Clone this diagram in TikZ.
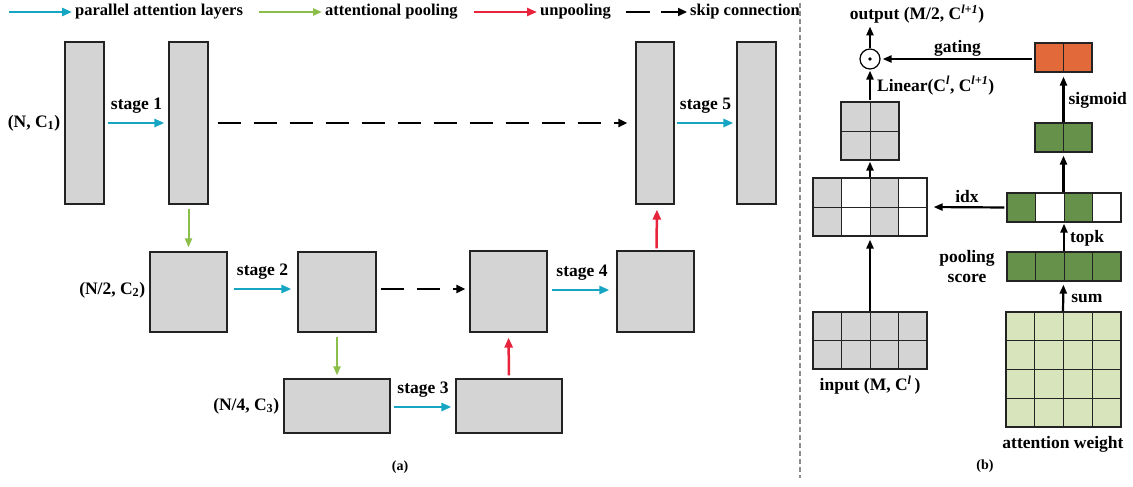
\documentclass[tikz,border=0pt]{standalone}
\usepackage{fontspec}
\setmainfont{Liberation Serif}
\usetikzlibrary{arrows.meta}
\definecolor{boxgray}{RGB}{212,212,212}
\definecolor{cyanA}{RGB}{22,166,196}
\definecolor{greenA}{RGB}{140,190,75}
\definecolor{redA}{RGB}{232,35,60}
\definecolor{orangeA}{RGB}{226,106,58}
\definecolor{dgreen}{RGB}{101,145,75}
\definecolor{lgreen}{RGB}{215,228,188}
\definecolor{edge}{RGB}{35,35,35}
\definecolor{divgray}{RGB}{140,140,140}
\tikzset{
  blk/.style={draw=edge, fill=boxgray, line width=1.2pt, inner sep=0pt},
  frame/.style={draw=edge, line width=1.2pt, inner sep=0pt},
  cellst/.style={draw=edge, line width=1pt},
  pararrow/.style={cyanA, line width=2.6pt, -{Triangle[length=10pt,width=8pt]}},
  poolarrow/.style={greenA, line width=2pt, -{Triangle[length=9pt,width=7pt]}},
  unpoolarrow/.style={redA, line width=2.5pt, -{Triangle[length=10pt,width=8pt]}},
  skiparrow/.style={black, line width=2.8pt, dash pattern=on 23pt off 13pt, -{Triangle[length=9pt,width=8pt]}},
  flow/.style={black, line width=2.2pt, -{Triangle[length=9pt,width=7pt]}},
  lbl/.style={inner sep=1pt, text=black},
  legendtxt/.style={anchor=west, inner sep=3pt, text=black, font=\fontsize{16.5}{19}\selectfont\bfseries},
}
\begin{document}
\begin{tikzpicture}[x=1pt,y=-1pt, font=\fontsize{17.5}{20}\selectfont\bfseries]
\useasboundingbox (0,0) rectangle (1133,487);

% ---------- legend ----------
\node[legendtxt] (lg1) at (72,12) {parallel attention layers};
\coordinate (lg1s) at (9,12);
\draw[pararrow] (lg1s) -- (lg1.west);
\node[legendtxt] (lg2) at (322,12) {attentional pooling};
\coordinate (lg2s) at (259,12);
\draw[poolarrow, line width=2.6pt] (lg2s) -- (lg2.west);
\node[legendtxt] (lg3) at (537,12) {unpooling};
\coordinate (lg3s) at (474,12);
\draw[unpoolarrow, line width=2.6pt] (lg3s) -- (lg3.west);
\node[legendtxt] (lg4) at (687,12) {skip connection};
\coordinate (lg4s) at (626,12);
\draw[skiparrow, dash pattern=on 24pt off 11pt] (lg4s) -- (lg4.west);

% divider
\draw[divgray, line width=1.6pt, dash pattern=on 5pt off 3pt] (800,3) -- (800,478);

% ---------- panel (a) ----------
\node[blk, minimum width=39pt, minimum height=162pt] (b1) at (84.5,123) {};
\node[blk, minimum width=39pt, minimum height=162pt] (b2) at (188.5,123) {};
\node[blk, minimum width=77pt, minimum height=80pt] (b3) at (188.5,292) {};
\node[blk, minimum width=78pt, minimum height=80pt] (b4) at (337,292) {};
\node[blk, minimum width=106pt, minimum height=54pt] (b5) at (337,406) {};
\node[blk, minimum width=106pt, minimum height=54pt] (b8) at (509,406) {};
\node[blk, minimum width=77pt, minimum height=81pt] (b6) at (508.5,291.5) {};
\node[blk, minimum width=77pt, minimum height=81pt] (b7) at (655.5,291.5) {};
\node[blk, minimum width=38pt, minimum height=162pt] (b9) at (655,123) {};
\node[blk, minimum width=39pt, minimum height=162pt] (b10) at (756.5,123) {};

\node[lbl, anchor=east] at ([xshift=-3pt]b1.west) {(N, C\textsubscript{1})};
\node[lbl, anchor=east] at ([xshift=-3pt,yshift=2pt]b3.west) {(N/2, C\textsubscript{2})};
\node[lbl, anchor=east] at ([xshift=-3pt]b5.west) {(N/4, C\textsubscript{3})};

\draw[pararrow, shorten <=3pt, shorten >=4pt] (b1.east) -- node[lbl, yshift=17pt] {stage 1} (b2.west);
\draw[pararrow, shorten <=6pt, shorten >=6pt] ([yshift=3pt]b3.east) -- node[lbl, yshift=17pt] {stage 2} ([yshift=3pt]b4.west);
\draw[pararrow, shorten <=3pt, shorten >=4pt] ([yshift=-1pt]b5.east) -- node[lbl, yshift=17pt] {stage 3} ([yshift=-1pt]b8.west);
\draw[pararrow, shorten <=4pt, shorten >=7pt] ([yshift=1.5pt]b6.east) -- node[lbl, yshift=17pt] {stage 4} ([yshift=1.5pt]b7.west);
\draw[pararrow, shorten <=2pt, shorten >=3pt] (b9.east) -- node[lbl, yshift=17pt] {stage 5} (b10.west);

\draw[poolarrow, shorten <=4pt, shorten >=4pt] (b2.south) -- (b3.north);
\draw[poolarrow, shorten <=4pt, shorten >=3pt] (b4.south) -- (b5.north);
\draw[unpoolarrow, shorten <=3pt, shorten >=5pt] (b8.north) -- (b6.south);
\draw[unpoolarrow, shorten <=2pt, shorten >=5pt] ([xshift=1pt]b7.north) -- ([xshift=2pt]b9.south);

\draw[skiparrow, shorten <=9pt, shorten >=8pt] (b2.east) -- (b9.west);
\draw[skiparrow, shorten <=4pt, shorten >=4pt] ([yshift=3pt]b4.east) -- ([yshift=2.5pt]b6.west);

\node[font=\fontsize{14}{16}\selectfont\bfseries] (capa) at (400,467) {(a)};

% ---------- panel (b) ----------
% orange gating box
\foreach \i in {0,1} \filldraw[cellst, fill=orangeA] ({1035+\i*28.5},43) rectangle +(28.5,29);
\node[frame, minimum width=57pt, minimum height=29pt] (gate) at (1063.5,57.5) {};
% sigmoid box
\foreach \i in {0,1} \filldraw[cellst, fill=dgreen] ({1035+\i*28.5},123) rectangle +(28.5,29);
\node[frame, minimum width=57pt, minimum height=29pt] (sig) at (1063.5,137.5) {};
% topk row
\foreach \i/\c in {0/dgreen,1/white,2/dgreen,3/white} \filldraw[cellst, fill=\c] ({1007+\i*28.5},193) rectangle +(28.5,29);
\node[frame, minimum width=114pt, minimum height=29pt] (topk) at (1064,207.5) {};
% pooling score row
\foreach \i in {0,...,3} \filldraw[cellst, fill=dgreen] ({1007+\i*28.5},252) rectangle +(28.5,29);
\node[frame, minimum width=114pt, minimum height=29pt] (pool) at (1064,266.5) {};
% attention weight 4x4
\foreach \i in {0,...,3} \foreach \j in {0,...,3} \filldraw[cellst, fill=lgreen] ({1006+\i*28.75},{312+\j*28.75}) rectangle +(28.75,28.75);
\node[frame, minimum width=115pt, minimum height=115pt] (att) at (1063.5,369.5) {};
% linear 2x2
\foreach \i in {0,1} \foreach \j in {0,1} \filldraw[cellst, fill=boxgray] ({841+\i*29},{102+\j*29}) rectangle +(29,29);
\node[frame, minimum width=58pt, minimum height=58pt] (lin) at (870,131) {};
% middle 2x4
\foreach \i/\c in {0/boxgray,1/white,2/boxgray,3/white} \foreach \j in {0,1} \filldraw[cellst, fill=\c] ({813+\i*28.5},{178+\j*29}) rectangle +(28.5,29);
\node[frame, minimum width=114pt, minimum height=58pt] (mid) at (870,207) {};
% input 2x4
\foreach \i in {0,...,3} \foreach \j in {0,1} \filldraw[cellst, fill=boxgray] ({813+\i*28.5},{312+\j*28.5}) rectangle +(28.5,28.5);
\node[frame, minimum width=114pt, minimum height=57pt] (inp) at (870,340.5) {};

% odot
\node[draw=black, line width=1.2pt, circle, minimum size=20pt, inner sep=0pt] (od) at (870,59) {};
\fill (od.center) circle (1.8pt);

% labels
\node[lbl] (out) at (917,14) {output (M/2, C\textsuperscript{\textit{l+1}})};
\node[lbl] (inlbl) at (870,385) {input (M, C\textsuperscript{\textit{l}}\,)};
\node[lbl] (attlbl) at (1063,444) {attention weight};
\node[lbl, align=center] (poollbl) at (967,267) {pooling\\score};
\node[font=\fontsize{14}{16}\selectfont\bfseries] (capb) at (985,466) {(b)};

% arrows
\draw[flow, shorten >=2pt] (od.north) -- (od.north |- out.south);
\draw[flow, shorten <=2pt, shorten >=2pt] ([yshift=-1.5pt]gate.west) -- node[lbl, yshift=11pt] {gating} ([yshift=-1.5pt]gate.west -| od.east);
\draw[flow, shorten <=1pt, shorten >=1pt] (lin.north) -- node[lbl, anchor=west, pos=0.5, xshift=5pt] {Linear(C\textsuperscript{\textit{l}}, C\textsuperscript{\textit{l+1}})} (od.south);
\draw[flow, shorten >=1pt] (mid.north) -- (lin.south);
\draw[flow, shorten >=3pt] (inp.north) -- (mid.south);
\draw[flow, shorten >=4pt] (sig.north) -- node[lbl, anchor=west, xshift=3pt, pos=0.45] {sigmoid} (gate.south);
\draw[flow, shorten >=3pt] ([xshift=-0.5pt]topk.north) -- (sig.south);
\draw[flow, shorten >=1pt] (pool.north) -- node[lbl, anchor=west, xshift=4pt, pos=0.45] {topk} (topk.south);
\draw[flow, shorten >=3pt] ([xshift=-0.5pt]att.north) -- node[lbl, anchor=west, xshift=6pt, pos=0.45] {sum} ([xshift=-0.5pt]pool.south);
\draw[flow, shorten <=2pt, shorten >=6pt] (topk.west) -- node[lbl, yshift=11pt] {idx} (mid.east);
\end{tikzpicture}
\end{document}
